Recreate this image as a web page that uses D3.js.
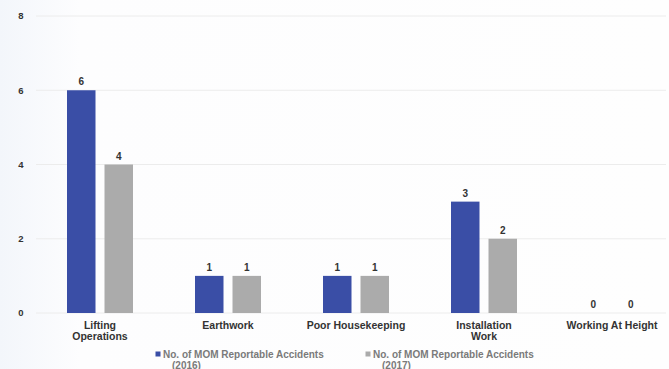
<!DOCTYPE html>
<html><head><meta charset="utf-8">
<script src="https://cdn.jsdelivr.net/npm/d3@7"></script>
<style>body{margin:0;background:#fdfdfe;}svg{display:block;}</style>
</head><body>
<svg id="c" width="669" height="369"></svg>
<script>
const categories = [["Lifting","Operations"],["Earthwork"],["Poor Housekeeping"],["Installation","Work"],["Working At Height"]];
const series2016 = [6,1,1,3,0];
const series2017 = [4,1,1,2,0];
const seriesNames = ["No. of MOM Reportable Accidents (2016)","No. of MOM Reportable Accidents (2017)"];
const yTicks = [0,2,4,6,8];
const colors = ["#3a4ea6","#ababab"];

const svg = d3.select("#c");
const defs = svg.append("defs");
const grad = defs.append("linearGradient").attr("id","bg").attr("x1","0").attr("x2","1");
grad.append("stop").attr("offset","0").attr("stop-color","#f3f6fb");
grad.append("stop").attr("offset","0.12").attr("stop-color","#fdfdfe");
grad.append("stop").attr("offset","1").attr("stop-color","#fefefe");
svg.append("rect").attr("width",669).attr("height",369).attr("fill","url(#bg)");

const font = "Liberation Sans, Arial, sans-serif";
const x = d3.scaleBand().domain(categories.map((d,i)=>i)).range([36,676]).paddingInner(0).paddingOuter(0);
const y = d3.scaleLinear().domain([0,8]).range([313,16]);
const sub = d3.scaleBand().domain([0,1]).range([-33,33]).paddingInner(0.24).paddingOuter(0);

// gridlines
svg.append("g").selectAll("line").data(yTicks).join("line")
  .attr("x1",36).attr("x2",666).attr("y1",d=>y(d)).attr("y2",d=>y(d))
  .attr("stroke","#ececec").attr("stroke-width",1);

// y tick labels
svg.append("g").selectAll("text").data(yTicks).join("text")
  .attr("x",21).attr("y",d=>y(d)).attr("dy","0.35em").attr("text-anchor","middle")
  .attr("font-family",font).attr("font-weight","bold")
  .attr("font-size",9.5).attr("fill","#333").text(d=>d);

const data = [series2016, series2017];
data.forEach((vals,s)=>{
  const g = svg.append("g");
  g.selectAll("rect").data(vals).join("rect")
    .attr("x",(d,i)=>x(i)+x.bandwidth()/2+sub(s))
    .attr("width",sub.bandwidth())
    .attr("y",d=>y(d)).attr("height",d=>y(0)-y(d))
    .attr("fill",colors[s]);
  g.selectAll("text").data(vals).join("text")
    .attr("x",(d,i)=>x(i)+x.bandwidth()/2+sub(s)+sub.bandwidth()/2)
    .attr("y",d=>y(d)-5).attr("text-anchor","middle")
    .attr("font-family",font).attr("font-weight","bold")
    .attr("font-size",10).attr("fill","#333").text(d=>d);
});

// category labels
const cl = svg.append("g").selectAll("text").data(categories).join("text")
  .attr("x",(d,i)=>x(i)+x.bandwidth()/2).attr("y",329).attr("text-anchor","middle")
  .attr("font-family",font).attr("font-weight","bold")
  .attr("font-size",10.5).attr("fill","#333");
cl.selectAll("tspan").data(d=>d).join("tspan")
  .attr("x",function(){return this.parentNode.getAttribute("x");})
  .attr("dy",(d,i)=>i===0?0:11).text(d=>d);

// legend
const legX = [158,368];
seriesNames.forEach((n,i)=>{
  const g = svg.append("g").attr("transform",`translate(${legX[i]},354)`);
  g.append("rect").attr("x",-2.5).attr("y",-2.5).attr("width",5).attr("height",5).attr("fill",colors[i]);
  const parts = n.match(/^(.*) (\(\d+\))$/);
  const t = g.append("text").attr("x",5).attr("y",0).attr("dy","0.35em")
    .attr("font-family",font).attr("font-weight","bold")
    .attr("font-size",10).attr("fill","#7a7a7a");
  t.append("tspan").attr("x",5).text(parts[1]);
  t.append("tspan").attr("x",14).attr("dy",11).text(parts[2]);
});
</script>
</body></html>
